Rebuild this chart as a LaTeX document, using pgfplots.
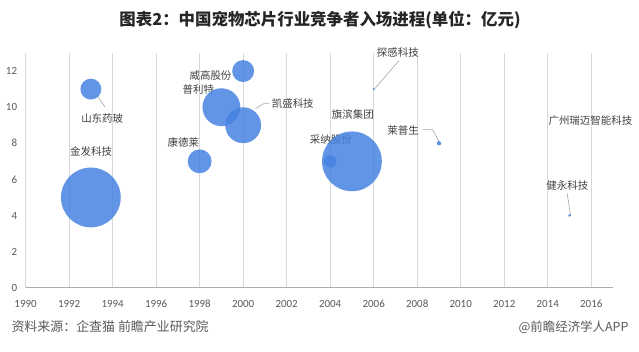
\documentclass[border=0pt]{standalone}
\usepackage{pgfplots}
\pgfplotsset{compat=1.18}
\usepackage{fontspec}
\setmainfont{Carlito}
\newfontfamily\cjk{Noto Sans CJK SC}
\definecolor{bub}{RGB}{70,130,225}
\definecolor{gridc}{RGB}{217,217,217}
\definecolor{txt}{RGB}{64,64,64}
\definecolor{tick}{RGB}{89,89,89}
\definecolor{lead}{RGB}{166,166,166}
\begin{document}
\begin{tikzpicture}[x=1bp,y=1bp]
\path[use as bounding box] (0,0) rectangle (639,-351);
\node[font=\cjk\bfseries\fontsize{16.5}{19}\selectfont, text=black!85] at (320,-20) {图表2：中国宠物芯片行业竞争者入场进程(单位：亿元)};
\begin{axis}[
  at={(25.6bp,-287.7bp)}, anchor=south west,
  scale only axis, width=587.4bp, height=234.7bp,
  xmin=1990, xmax=2017, ymin=0, ymax=13,
  xtick={1990,1992,...,2016}, ytick={0,2,...,12},
  xmajorgrids, grid style={draw=gridc, line width=0.75bp},
  axis x line*=bottom, axis y line*=left,
  x axis line style={draw=gridc!80!black, line width=0.9bp, -},
  y axis line style={draw=none},
  major tick length=0pt,
  /pgf/number format/1000 sep={},
  /pgf/number format/assume math mode=true,
  tick label style={font=\fontsize{11}{12}\selectfont, text=tick},
  x tick label style={yshift=-9bp},
  y tick label style={xshift=-5bp},
  clip=false,
]
\addplot[scatter, only marks, mark=*,
  mark options={draw opacity=0, line width=0pt},
  visualization depends on={\thisrow{r}\as\rr},
  scatter/use mapped color={draw=bub, draw opacity=0, line width=0pt, fill=bub, fill opacity=0.85},
  scatter/@pre marker code/.append style={/tikz/mark size=\rr}]
  table {
x y r
1993 5 30
2005 7 30
1999 10 19
2000 9 18
1998 7 12
2000 12 11
1993 11 10.5
2004 7 6.3
2009 8 2.2
2015 4 1.5
2006 11 1.1
};
\begin{scope}[every node/.style={font=\cjk\fontsize{10.5}{12}\selectfont, text=txt}]
\node at (axis cs:1993.52,9.38) {山东药玻};
\node at (axis cs:1993.01,7.56) {金发科技};
\node at (axis cs:1998.5,11.77) {威高股份};
\node at (axis cs:1997.94,11.0) {普利特};
\node at (axis cs:2002.28,10.21) {凯盛科技};
\node at (axis cs:1997.25,8.06) {康德莱};
\node at (axis cs:2005.04,9.6) {旗滨集团};
\node at (axis cs:2004.03,8.22) {采纳股份};
\node at (axis cs:2007.11,13.04) {探感科技};
\node at (axis cs:2007.35,8.72) {莱普生};
\node at (axis cs:2015.96,9.27) {广州瑞迈智能科技};
\node at (axis cs:2014.9,5.68) {健永科技};
\end{scope}
\begin{scope}[draw=lead, line width=0.6bp]
\draw (axis cs:1993.3,10.64) -- (axis cs:1993.65,10.0);
\draw (axis cs:2000.57,9.92) -- (axis cs:2000.95,10.2) -- (axis cs:2001.2,10.2);
\draw (axis cs:2006.02,10.99) -- (axis cs:2007.15,12.56);
\draw (axis cs:2008.25,8.76) -- (axis cs:2008.71,8.76) -- (axis cs:2009.06,7.96);
\draw (axis cs:2014.89,5.25) -- (axis cs:2015.05,3.98);
\end{scope}
\end{axis}
\node[anchor=west, font=\cjk\fontsize{13}{15}\selectfont, text=tick] at (8,-327) {资料来源：企查猫 前瞻产业研究院};
\node[anchor=east, font=\cjk\fontsize{12.5}{15}\selectfont, text=tick] at (632,-327) {@前瞻经济学人APP};
\end{tikzpicture}
\end{document}
